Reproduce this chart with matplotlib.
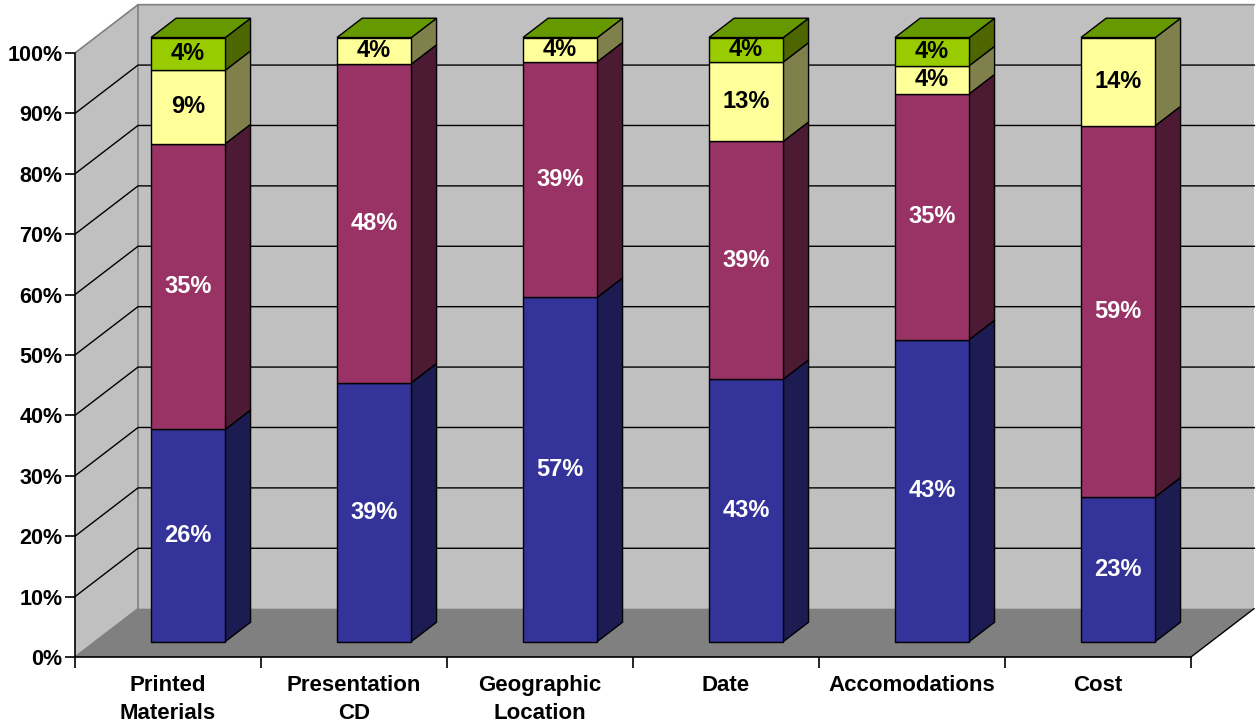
import matplotlib
matplotlib.use("Agg")
import matplotlib.pyplot as plt
from matplotlib.patches import Polygon
from matplotlib.ticker import FixedLocator, FuncFormatter

# ---- data ----
categories = ["Printed\nMaterials", "Presentation\nCD", "Geographic\nLocation",
              "Date", "Accomodations", "Cost"]
blue = [26, 39, 57, 43, 43, 23]
purple = [35, 48, 39, 39, 35, 59]
yellow = [9, 4, 4, 13, 4, 14]
green = [4, 0, 0, 4, 4, 0]
y_ticks = [0, 10, 20, 30, 40, 50, 60, 70, 80, 90, 100]

series = [blue, purple, yellow, green]
front_colors = ["#333399", "#993366", "#FFFF99", "#99CC00"]
side_colors = ["#1C1C52", "#4D1A33", "#80804D", "#4D6600"]
top_color = "#669900"
label_colors = ["white", "white", "black", "black"]

plt.rcParams['font.family'] = ['Liberation Sans', 'DejaVu Sans']

W, H = 1255, 727
fig = plt.figure(figsize=(W / 100, H / 100), dpi=100)
ax = fig.add_axes([75 / W, (H - 657) / H, 1116 / W, 604 / H])
ax.set_xlim(0, len(categories))
ax.set_ylim(0, 100)
ax.patch.set_alpha(0)

# oblique depth (full depth offsets in data units)
DX = 63 / 186.0
DY = 8.0
ZF, ZB = 0.32, 0.72
BW = 0.40

def P(x, y, z):
    return (x + z * DX, y + z * DY)

n = len(categories)
# walls
back = Polygon([P(0, 0, 1), P(n, 0, 1), P(n, 100, 1), P(0, 100, 1)],
               closed=True, facecolor="#C0C0C0", edgecolor="none", clip_on=False, zorder=1)
left = Polygon([P(0, 0, 0), P(0, 0, 1), P(0, 100, 1), P(0, 100, 0)],
               closed=True, facecolor="#C0C0C0", edgecolor="none", clip_on=False, zorder=1)
floor = Polygon([P(0, 0, 0), P(n, 0, 0), P(n, 0, 1), P(0, 0, 1)],
                closed=True, facecolor="#808080", edgecolor="none", clip_on=False, zorder=1)
for p in (back, left, floor):
    ax.add_patch(p)

# wall borders (gray)
for pts in ([P(0, 100, 0), P(0, 100, 1), P(n + 0.01, 100, 1)],
            [P(0, 0, 1), P(0, 100, 1)],
            [P(0, 0, 0), P(0, 0, 1)]):
    xs, ys = zip(*pts)
    ax.plot(xs, ys, color="#808080", lw=1.2, clip_on=False, zorder=2)
# floor right edge
xs, ys = zip(P(n, 0, 0), P(n, 0, 1))
ax.plot(xs, ys, color="black", lw=1.0, clip_on=False, zorder=2)

# gridlines
for v in y_ticks[1:-1]:
    xs, ys = zip(P(0, v, 0), P(0, v, 1), P(n + 0.01, v, 1))
    ax.plot(xs, ys, color="black", lw=1.0, clip_on=False, zorder=2)

# bars
for i in range(n):
    vals = [s[i] for s in series]
    total = sum(vals)
    x0 = i + 0.5 - BW / 2
    x1 = i + 0.5 + BW / 2
    bottom = 0.0
    for k, v in enumerate(vals):
        h = v / total * 100.0
        top = bottom + h
        if v > 0:
            front = Polygon([P(x0, bottom, ZF), P(x1, bottom, ZF), P(x1, top, ZF), P(x0, top, ZF)],
                            closed=True, facecolor=front_colors[k], edgecolor="black",
                            lw=1.0, clip_on=False, zorder=3, joinstyle="miter")
            side = Polygon([P(x1, bottom, ZF), P(x1, bottom, ZB), P(x1, top, ZB), P(x1, top, ZF)],
                           closed=True, facecolor=side_colors[k], edgecolor="black",
                           lw=1.0, clip_on=False, zorder=3, joinstyle="miter")
            ax.add_patch(side)
            ax.add_patch(front)
            cx, cy = P((x0 + x1) / 2, (bottom + top) / 2, ZF)
            ax.text(cx, cy, f"{v}%", ha="center", va="center", fontsize=17,
                    fontweight="bold", color=label_colors[k], zorder=5, clip_on=False)
        bottom = top
    topface = Polygon([P(x0, bottom, ZF), P(x1, bottom, ZF), P(x1, bottom, ZB), P(x0, bottom, ZB)],
                      closed=True, facecolor=top_color, edgecolor="black",
                      lw=1.0, clip_on=False, zorder=3, joinstyle="miter")
    ax.add_patch(topface)

# axes styling
for s in ("top", "right"):
    ax.spines[s].set_visible(False)
for s in ("left", "bottom"):
    ax.spines[s].set_color("black")
    ax.spines[s].set_linewidth(1.2)
    ax.spines[s].set_zorder(6)

ax.yaxis.set_major_locator(FixedLocator(y_ticks))
ax.yaxis.set_major_formatter(FuncFormatter(lambda v, p: f"{int(v)}%"))
ax.tick_params(axis="y", which="major", length=7, width=1.2, pad=2, labelsize=15.5)
for t in ax.get_yticklabels():
    t.set_fontweight("bold")

ax.xaxis.set_major_locator(FixedLocator(list(range(n + 1))))
ax.xaxis.set_major_formatter(FuncFormatter(lambda v, p: ""))
ax.xaxis.set_minor_locator(FixedLocator([i + 0.5 for i in range(n)]))
ax.set_xticklabels(categories, minor=True)
ax.tick_params(axis="x", which="major", length=8, width=1.2)
ax.tick_params(axis="x", which="minor", length=0, pad=13, labelsize=16)
for t in ax.get_xticklabels(minor=True):
    t.set_fontweight("bold")
    t.set_linespacing(1.45)

fig.savefig("out.png", dpi=100)
